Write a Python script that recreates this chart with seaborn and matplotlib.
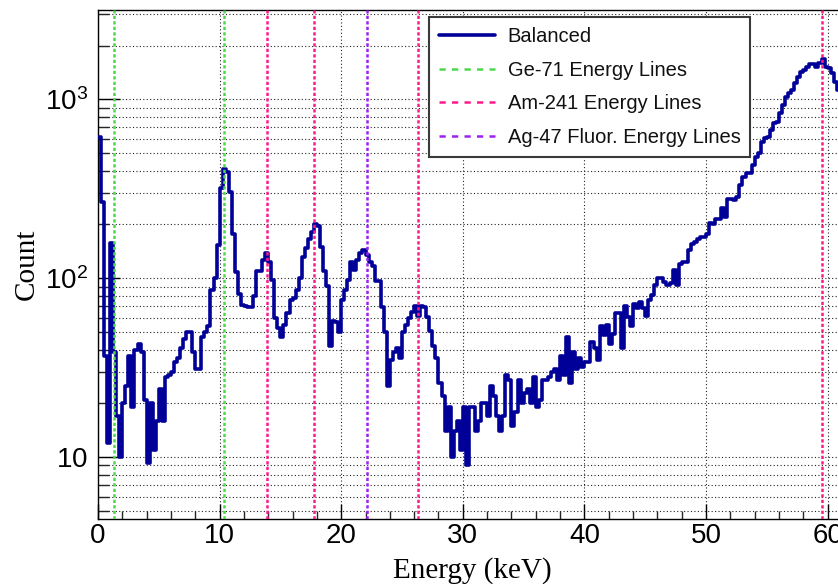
import numpy as np
import pandas as pd
import matplotlib
matplotlib.use("Agg")
import matplotlib.pyplot as plt
from matplotlib.lines import Line2D
from matplotlib.ticker import MultipleLocator, LogLocator, NullFormatter
import seaborn as sns

# Spectrum: counts per 0.25 keV bin, starting at 0 keV
BIN_WIDTH_KEV = 0.25
counts = [
    620, 268, 37, 12, 157, 39, 17, 10, 20, 25,
    37, 19, 40, 43, 39, 21, 9.3, 20, 11, 16,
    24, 16, 28, 29, 30, 34, 36, 41, 46, 50,
    50, 39, 31, 31, 47, 50, 54, 86, 100, 153,
    318, 411, 394, 305, 178, 109, 82, 71, 70, 69,
    69, 80, 110, 110, 126, 138, 124, 98, 60, 53,
    47, 55, 64, 76, 78, 86, 101, 132, 147, 165,
    182, 201, 195, 150, 110, 91, 42, 58, 57, 50,
    76, 86, 98, 124, 111, 126, 138, 144, 135, 124,
    117, 97, 97, 69, 50, 25, 35, 39, 41, 36,
    50, 55, 60, 65, 70, 62, 70, 69, 61, 51,
    42, 36, 26, 22, 14, 19, 10, 14, 16, 11,
    19, 9.1, 19, 19, 14, 16, 20, 20, 17, 25,
    22, 17, 14, 17, 29, 27, 15, 18, 27, 20,
    23, 24, 20, 28, 19, 21, 27, 27, 28, 30,
    31, 27, 37, 29, 47, 26, 39, 31, 36, 32,
    34, 34, 44, 41, 35, 54, 48, 55, 43, 49,
    64, 64, 41, 70, 61, 54, 72, 68, 74, 68,
    62, 76, 81, 92, 100, 100, 96, 92, 94, 111,
    92, 121, 124, 124, 144, 155, 160, 165, 171, 171,
    178, 205, 200, 216, 216, 246, 221, 276, 276, 274,
    286, 332, 370, 386, 386, 430, 478, 499, 580, 605,
    620, 674, 734, 750, 835, 929, 1035, 1080, 1127, 1228,
    1337, 1426, 1458, 1522, 1575, 1575, 1522, 1603, 1672, 1522,
    1489, 1396, 1255, 1127,
]

# Reference energy lines (keV)
ge71_lines = [1.30, 10.37]
am241_lines = [13.90, 17.75, 26.34, 59.54]
ag47_lines = [22.10]

legend_labels = ["Balanced", "Ge-71 Energy Lines", "Am-241 Energy Lines",
                 "Ag-47 Fluor. Energy Lines"]
y_ticks = [10, 100, 1000]
y_tick_labels = [r"$\mathregular{10}$", r"$\mathregular{10^{2}}$", r"$\mathregular{10^{3}}$"]

HIST_COLOR = "#000099"
GE_COLOR = "#4cd94c"
AM_COLOR = "#ff1a8c"
AG_COLOR = "#a020f0"

sns.set_theme(style="ticks")
plt.rcParams["font.family"] = ["Liberation Sans", "DejaVu Sans"]

edges = [i * BIN_WIDTH_KEV for i in range(len(counts) + 1)]
centers = [e + BIN_WIDTH_KEV / 2 for e in edges[:-1]]
df = pd.DataFrame({"energy": centers, "count": counts})

W, H = 838, 584
fig = plt.figure(figsize=(W / 100, H / 100), dpi=100)
fig.patch.set_facecolor("white")
px_per_kev = 12.16
x_max = 62
ax_left, ax_bottom, ax_top = 98, 518.5, 9.5
ax = fig.add_axes([ax_left / W, (H - ax_bottom) / H, x_max * px_per_kev / W,
                   (ax_bottom - ax_top) / H])
ax.set_facecolor("white")

sns.histplot(data=df, x="energy", weights="count", bins=edges, element="step",
             fill=False, color=HIST_COLOR, linewidth=2.6, ax=ax, zorder=3)

line_kw = dict(linewidth=1.8, linestyle=(0, (1.3, 0.9)), zorder=4)
for e in ge71_lines:
    ax.axvline(e, color=GE_COLOR, **line_kw)
for e in am241_lines:
    ax.axvline(e, color=AM_COLOR, **line_kw)
for e in ag47_lines:
    ax.axvline(e, color=AG_COLOR, **line_kw)

ax.set_yscale("log")
ax.set_xlim(0, x_max)
ax.set_ylim(4.55, 3180)

ax.xaxis.set_major_locator(MultipleLocator(10))
ax.xaxis.set_minor_locator(MultipleLocator(2))
ax.set_yticks(y_ticks, y_tick_labels)
ax.yaxis.set_minor_locator(LogLocator(base=10, subs=np.arange(2, 10)))
ax.yaxis.set_minor_formatter(NullFormatter())

grid_kw = dict(color="#222222", linewidth=0.8, linestyle=(0, (1, 2.1)))
ax.grid(True, which="major", axis="x", **grid_kw)
ax.grid(True, which="both", axis="y", **grid_kw)
ax.set_axisbelow(True)

ax.tick_params(axis="x", which="major", direction="in", length=11, width=1, pad=3.5,
               labelsize=20, colors="black")
ax.tick_params(axis="x", which="minor", direction="in", length=5.5, width=1)
ax.tick_params(axis="y", which="major", direction="in", length=16, width=1, pad=7,
               labelsize=20, colors="black")
ax.tick_params(axis="y", which="minor", direction="in", length=8, width=1)

for side in ["left", "bottom", "top", "right"]:
    ax.spines[side].set_color("black")
    ax.spines[side].set_linewidth(1.0)

label_font = dict(family="Liberation Serif", size=21, color="black")
ax.set_xlabel("Energy (keV)", **label_font)
ax.set_ylabel("Count", **label_font)
ax.xaxis.set_label_coords(472.5 / W, 1 - 557 / H, transform=fig.transFigure)
ax.yaxis.set_label_coords(40 / W, 1 - 264 / H, transform=fig.transFigure)

handles = [
    Line2D([], [], color=HIST_COLOR, linewidth=2.6),
    Line2D([], [], color=GE_COLOR, linewidth=1.8, linestyle=(0, (2.5, 2.5))),
    Line2D([], [], color=AM_COLOR, linewidth=1.8, linestyle=(0, (2.5, 2.5))),
    Line2D([], [], color=AG_COLOR, linewidth=1.8, linestyle=(0, (2.5, 2.5))),
]
leg = ax.legend(handles, legend_labels, loc="upper left",
                bbox_to_anchor=(429 / W, 1 - 17 / H), bbox_transform=fig.transFigure,
                frameon=True, fancybox=False, edgecolor="#3a3a3a", framealpha=1,
                borderaxespad=0, prop={"family": "Liberation Sans", "size": 14.5},
                handlelength=2.8, handletextpad=0.6, labelspacing=0.72, borderpad=0.5)
leg.get_frame().set_linewidth(1.5)
leg.set_zorder(10)
for t in leg.get_texts():
    t.set_color("#111111")

fig.savefig("out.png", dpi=100, facecolor="white")
